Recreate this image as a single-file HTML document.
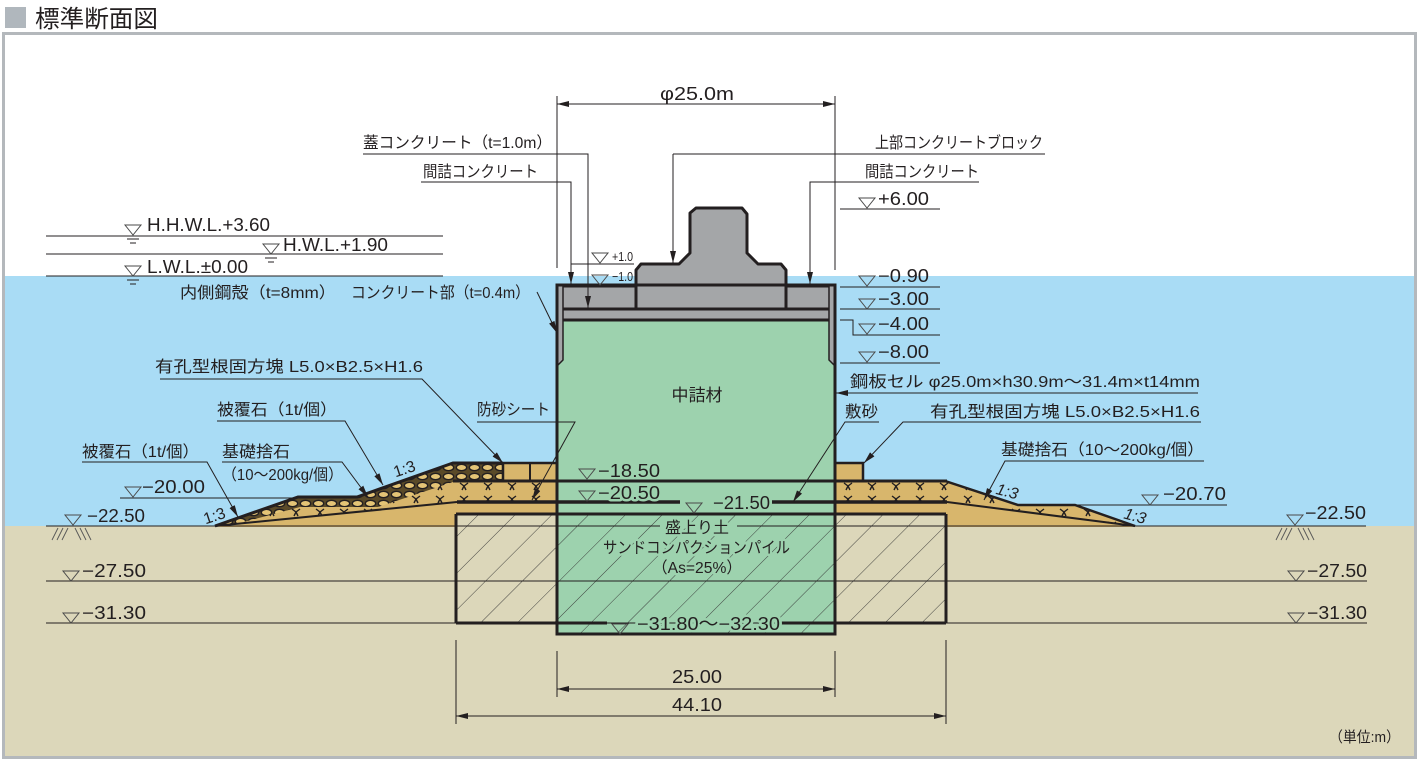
<!DOCTYPE html>
<html><head><meta charset="utf-8">
<style>
html,body{margin:0;padding:0;background:#fff;}
svg{display:block;}
text{font-family:"Liberation Sans","Noto Sans CJK JP",sans-serif;fill:#231f20;}
.j{font-size:16px;}
.n{font-size:18px;}
.h{paint-order:stroke;stroke:#9dd2ae;stroke-width:5px;stroke-linejoin:round;}
.tri{fill:none;stroke:#4a4a4a;stroke-width:1;}
.thin{stroke:#231f20;stroke-width:1;fill:none;}
.thk{stroke:#231f20;stroke-width:3;fill:none;}
</style></head><body>
<svg width="1419" height="760" viewBox="0 0 1419 760" xmlns="http://www.w3.org/2000/svg">
<defs>
 <marker id="ar" markerWidth="12" markerHeight="6" refX="12" refY="3" orient="auto-start-reverse" markerUnits="userSpaceOnUse">
  <path d="M0,0 L12,3 L0,6 z" fill="#231f20"/>
 </marker>
 <pattern id="hat" width="26" height="10" patternUnits="userSpaceOnUse" patternTransform="rotate(45)">
  <line x1="0" y1="0" x2="0" y2="10" stroke="#333" stroke-width="0.9"/>
 </pattern>
 <pattern id="xm" width="24" height="13" patternUnits="userSpaceOnUse" x="0" y="481">
  <rect width="24" height="13" fill="#d8b66c"/>
  <path d="M4,2 L8,5 L12,2 M8,5 L6,9 M8,5 L10,9" stroke="#231f20" stroke-width="1.4" fill="none"/>
 </pattern>
 <pattern id="ov" width="13" height="9" patternUnits="userSpaceOnUse" x="0" y="463">
  <rect width="13" height="9" fill="#5a4a28"/>
  <ellipse cx="6.5" cy="4.5" rx="5.2" ry="3.2" fill="#e4c476" stroke="#231f20" stroke-width="1.4"/>
 </pattern>
</defs>

<!-- title -->
<rect x="5" y="7" width="21" height="21" fill="#b0b7bd"/>
<text x="35" y="27" font-size="24" textLength="123" lengthAdjust="spacingAndGlyphs">標準断面図</text>

<!-- backgrounds -->
<rect x="4" y="34" width="1411" height="242" fill="#ffffff"/>
<rect x="4" y="276" width="1411" height="250" fill="#a9dcf5"/>
<rect x="4" y="526" width="1411" height="231" fill="#dcd7ba"/>
<rect x="3.5" y="33.5" width="1412" height="724" fill="none" stroke="#b4b8bc" stroke-width="3"/>

<!-- water level lines -->
<line x1="46" y1="236" x2="443" y2="236" class="thin"/>
<line x1="46" y1="254" x2="443" y2="254" class="thin"/>
<line x1="46" y1="276" x2="443" y2="276" class="thin"/>

<!-- sand base under mounds -->
<polygon points="215,527 457,502 947,502 1135,527" fill="#d8b66c"/>
<!-- rubble mounds -->
<polygon points="215,526 298,497 357,497 453,463 557,463 557,502 457,502" fill="url(#xm)"/>
<polygon points="835,481 945,481 1018,505 1075,505 1135,526 947,502 835,502" fill="url(#xm)"/>
<!-- armour stones -->
<polygon points="215,526 298,497 357,497 453,463 503,463 503,482 453,482 378,507 300,507 236,524" fill="url(#ov)"/>
<polyline points="215,526 298,497 357,497 453,463 503,463" class="thk"/>
<polyline points="835,481 945,481 1018,505 1075,505 1135,526" stroke="#231f20" stroke-width="2.5" fill="none"/>
<line x1="215" y1="526" x2="457" y2="502" stroke="#231f20" stroke-width="2"/>
<line x1="947" y1="502" x2="1135" y2="526" stroke="#231f20" stroke-width="2"/>
<!-- blocks -->
<rect x="503" y="463" width="54" height="18" fill="#d8b66c" stroke="#231f20" stroke-width="2.5"/>
<line x1="530" y1="463" x2="530" y2="481" stroke="#231f20" stroke-width="2"/>
<rect x="835" y="463" width="28" height="18" fill="#d8b66c" stroke="#231f20" stroke-width="2.5"/>

<!-- improved ground box -->
<rect x="456" y="514" width="490" height="109" fill="#dcd7ba"/>
<!-- cell -->
<rect x="557" y="320" width="278" height="314" fill="#9dd2ae"/>
<rect x="456" y="514" width="490" height="109" fill="url(#hat)"/>
<rect x="557" y="623" width="278" height="11" fill="url(#hat)"/>

<!-- ground lines -->
<line x1="46" y1="526" x2="660" y2="526" class="thin"/>
<line x1="737" y1="526" x2="1366" y2="526" class="thin"/>
<line x1="46" y1="581" x2="1367" y2="581" class="thin"/>
<line x1="46" y1="623" x2="1367" y2="623" class="thin"/>

<!-- thick horizontal lines -->
<line x1="453" y1="481" x2="947" y2="481" class="thk"/>
<line x1="457" y1="502" x2="680" y2="502" stroke="#231f20" stroke-width="3.5"/>
<line x1="772" y1="502" x2="947" y2="502" stroke="#231f20" stroke-width="3.5"/>
<line x1="456" y1="514" x2="946" y2="514" class="thk"/>
<line x1="456" y1="514" x2="456" y2="623" class="thk"/>
<line x1="946" y1="514" x2="946" y2="623" class="thk"/>
<line x1="456" y1="623" x2="607" y2="623" class="thk"/>
<line x1="780" y1="623" x2="946" y2="623" class="thk"/>

<!-- cap -->
<rect x="557" y="285" width="278" height="35" fill="#a4a6a8"/>
<polygon points="636,309 636,270 641,264 679,264 690,253 690,213 696,208 742,208 747,214 747,253 758,264 781,264 786,270 786,309" fill="#a4a6a8" stroke="#231f20" stroke-width="3" stroke-linejoin="round"/>
<line x1="557" y1="286" x2="636" y2="286" class="thk"/>
<line x1="786" y1="286" x2="835" y2="286" class="thk"/>
<line x1="557" y1="309" x2="835" y2="309" class="thk"/>
<line x1="557" y1="320" x2="835" y2="320" class="thk"/>
<polygon points="557,285 563,285 563,360 557,366" fill="#a4a6a8" stroke="#231f20" stroke-width="1.5"/>
<polygon points="829,285 835,285 835,366 829,360" fill="#a4a6a8" stroke="#231f20" stroke-width="1.5"/>
<rect x="557" y="285" width="278" height="349" fill="none" stroke="#231f20" stroke-width="3"/>

<!-- dimension phi -->
<line x1="557" y1="96" x2="557" y2="268" class="thin"/>
<line x1="835" y1="96" x2="835" y2="270" class="thin"/>
<line x1="557" y1="104" x2="835" y2="104" class="thin" marker-start="url(#ar)" marker-end="url(#ar)"/>
<text x="697" y="100" class="n" text-anchor="middle" textLength="74" lengthAdjust="spacingAndGlyphs">φ25.0m</text>

<!-- leaders top-left -->
<polyline points="363,154 588,154 588,308" class="thin" marker-end="url(#ar)"/>
<text x="363" y="148" class="j" textLength="189" lengthAdjust="spacingAndGlyphs">蓋コンクリート（t=1.0m）</text>
<polyline points="421,182 571,182 571,284" class="thin" marker-end="url(#ar)"/>
<text x="423" y="177" class="j" textLength="115" lengthAdjust="spacingAndGlyphs">間詰コンクリート</text>
<line x1="571" y1="264" x2="634" y2="264" class="thin"/>
<path d="M592,253 h16 l-8,10 z" class="tri"/>
<path d="M592,275 h16 l-8,10 z" class="tri"/>
<text x="612" y="261" font-size="13" textLength="21" lengthAdjust="spacingAndGlyphs">+1.0</text>
<text x="612" y="281" font-size="13" textLength="21" lengthAdjust="spacingAndGlyphs">−1.0</text>

<!-- leaders top-right -->
<line x1="673" y1="154" x2="1045" y2="154" class="thin"/>
<line x1="673" y1="154" x2="673" y2="263" class="thin" marker-end="url(#ar)"/>
<text x="875" y="148" class="j" textLength="168" lengthAdjust="spacingAndGlyphs">上部コンクリートブロック</text>
<polyline points="979,182 810,182 810,284" class="thin" marker-end="url(#ar)"/>
<text x="865" y="177" class="j" textLength="114" lengthAdjust="spacingAndGlyphs">間詰コンクリート</text>

<!-- right levels -->
<line x1="840" y1="209" x2="940" y2="209" class="thin"/>
<path d="M859,198 h16 l-8,10 z" class="tri"/>
<text x="878" y="205" class="n" textLength="51" lengthAdjust="spacingAndGlyphs">+6.00</text>
<line x1="840" y1="287" x2="940" y2="287" class="thin"/>
<path d="M859,276 h16 l-8,10 z" class="tri"/>
<text x="878" y="282" class="n" textLength="51" lengthAdjust="spacingAndGlyphs">−0.90</text>
<line x1="840" y1="309" x2="940" y2="309" class="thin"/>
<path d="M859,299 h16 l-8,10 z" class="tri"/>
<text x="878" y="305" class="n" textLength="51" lengthAdjust="spacingAndGlyphs">−3.00</text>
<polyline points="840,320 853,320 853,335 940,335" class="thin"/>
<path d="M859,324 h16 l-8,10 z" class="tri"/>
<text x="878" y="330" class="n" textLength="51" lengthAdjust="spacingAndGlyphs">−4.00</text>
<line x1="840" y1="363" x2="940" y2="363" class="thin"/>
<path d="M859,352 h16 l-8,10 z" class="tri"/>
<text x="878" y="358" class="n" textLength="51" lengthAdjust="spacingAndGlyphs">−8.00</text>

<line x1="1198" y1="393" x2="836" y2="393" class="thin" marker-end="url(#ar)"/>
<text x="850" y="387" class="j" textLength="350" lengthAdjust="spacingAndGlyphs">鋼板セル φ25.0m×h30.9m〜31.4m×t14mm</text>

<polyline points="879,422 845,422 793,502" class="thin" marker-end="url(#ar)"/>
<text x="845" y="417" class="j" textLength="33" lengthAdjust="spacingAndGlyphs">敷砂</text>
<polyline points="1201,422 903,422 864,463" class="thin" marker-end="url(#ar)"/>
<text x="930" y="417" class="j" textLength="270" lengthAdjust="spacingAndGlyphs">有孔型根固方塊 L5.0×B2.5×H1.6</text>
<polyline points="1204,461 1005,461 984,500" class="thin" marker-end="url(#ar)"/>
<text x="1001" y="455" class="j" textLength="203" lengthAdjust="spacingAndGlyphs">基礎捨石（10〜200kg/個）</text>
<text x="996" y="497" font-size="16" font-style="italic" transform="rotate(15 1008 492)">1:3</text>
<line x1="1075" y1="505" x2="1227" y2="505" class="thin"/>
<path d="M1142,495 h16 l-8,10 z" class="tri"/>
<text x="1163" y="500" class="n" textLength="63" lengthAdjust="spacingAndGlyphs">−20.70</text>
<text x="1124" y="521" font-size="16" font-style="italic" transform="rotate(15 1134 516)">1:3</text>

<!-- right ground labels -->
<path d="M1287,515 h16 l-8,10 z" class="tri"/>
<text x="1305" y="519" class="n" textLength="61" lengthAdjust="spacingAndGlyphs">−22.50</text>
<path d="M1276,540 l6,-12 M1281,540 l6,-12 M1286,540 l6,-12 M1298,528 l6,12 M1303,528 l6,12 M1308,528 l6,12" stroke="#555" stroke-width="0.9" fill="none"/>
<path d="M1288,571 h16 l-8,10 z" class="tri"/>
<text x="1307" y="577" class="n" textLength="60" lengthAdjust="spacingAndGlyphs">−27.50</text>
<path d="M1288,613 h16 l-8,10 z" class="tri"/>
<text x="1307" y="619" class="n" textLength="60" lengthAdjust="spacingAndGlyphs">−31.30</text>

<!-- left water levels -->
<path d="M125,225 h16 l-8,10 z" class="tri"/>
<path d="M127,239 h12 M130,243 h6" class="thin"/>
<text x="147" y="231" class="n" textLength="123" lengthAdjust="spacingAndGlyphs">H.H.W.L.+3.60</text>
<path d="M263,244 h16 l-8,10 z" class="tri"/>
<path d="M265,258 h12 M268,262 h6" class="thin"/>
<text x="283" y="251" class="n" textLength="105" lengthAdjust="spacingAndGlyphs">H.W.L.+1.90</text>
<path d="M125,266 h16 l-8,10 z" class="tri"/>
<path d="M127,280 h12 M130,284 h6" class="thin"/>
<text x="147" y="273" class="n" textLength="101" lengthAdjust="spacingAndGlyphs">L.W.L.±0.00</text>

<text x="180" y="298" class="j" textLength="156" lengthAdjust="spacingAndGlyphs">内側鋼殻（t=8mm）</text>
<text x="351" y="298" class="j" textLength="179" lengthAdjust="spacingAndGlyphs">コンクリート部（t=0.4m）</text>
<line x1="537" y1="292" x2="557" y2="333" class="thin" marker-end="url(#ar)"/>

<!-- left leaders -->
<polyline points="160,379 422,379 503,463" class="thin" marker-end="url(#ar)"/>
<text x="155" y="372" class="j" textLength="268" lengthAdjust="spacingAndGlyphs">有孔型根固方塊 L5.0×B2.5×H1.6</text>
<polyline points="217,421 345,421 383,485" class="thin" marker-end="url(#ar)"/>
<text x="217" y="415" class="j" textLength="120" lengthAdjust="spacingAndGlyphs">被覆石（1t/個）</text>
<polyline points="477,422 575,422 532,500" class="thin" marker-end="url(#ar)"/>
<text x="477" y="415" class="j" textLength="73" lengthAdjust="spacingAndGlyphs">防砂シート</text>
<polyline points="82,462 207,462 238,517" class="thin" marker-end="url(#ar)"/>
<text x="82" y="457" class="j" textLength="117" lengthAdjust="spacingAndGlyphs">被覆石（1t/個）</text>
<polyline points="222,462 342,462 368,497" class="thin" marker-end="url(#ar)"/>
<text x="222" y="457" class="j" textLength="68" lengthAdjust="spacingAndGlyphs">基礎捨石</text>
<text x="222" y="480" class="j" textLength="121" lengthAdjust="spacingAndGlyphs">（10〜200kg/個）</text>
<text x="393" y="474" font-size="16" transform="rotate(-18 405 468)">1:3</text>
<text x="203" y="521" font-size="16" transform="rotate(-18 215 515)">1:3</text>

<line x1="120" y1="498" x2="297" y2="498" class="thin"/>
<path d="M125,487 h16 l-8,10 z" class="tri"/>
<text x="142" y="493" class="n" textLength="63" lengthAdjust="spacingAndGlyphs">−20.00</text>
<path d="M65,515 h16 l-8,10 z" class="tri"/>
<text x="87" y="522" class="n" textLength="58" lengthAdjust="spacingAndGlyphs">−22.50</text>
<path d="M52,540 l6,-12 M57,540 l6,-12 M62,540 l6,-12 M75,528 l6,12 M80,528 l6,12 M85,528 l6,12" stroke="#555" stroke-width="0.9" fill="none"/>
<path d="M63,571 h16 l-8,10 z" class="tri"/>
<text x="82" y="577" class="n" textLength="64" lengthAdjust="spacingAndGlyphs">−27.50</text>
<path d="M63,613 h16 l-8,10 z" class="tri"/>
<text x="82" y="619" class="n" textLength="64" lengthAdjust="spacingAndGlyphs">−31.30</text>

<!-- cell interior labels -->
<text x="697" y="401" font-size="17" text-anchor="middle">中詰材</text>
<path d="M579,469 h16 l-8,10 z" class="tri"/>
<text x="598" y="477" class="n h" textLength="62" lengthAdjust="spacingAndGlyphs">−18.50</text>
<path d="M579,491 h16 l-8,10 z" class="tri"/>
<text x="598" y="499" class="n h" textLength="62" lengthAdjust="spacingAndGlyphs">−20.50</text>
<path d="M686,503 h16 l-8,10 z" class="tri"/>
<text x="713" y="509" class="n h" textLength="57" lengthAdjust="spacingAndGlyphs">−21.50</text>
<text x="697" y="533" font-size="16" text-anchor="middle" class="h">盛上り土</text>
<text x="603" y="553" font-size="16" class="h" textLength="187" lengthAdjust="spacingAndGlyphs">サンドコンパクションパイル</text>
<text x="652" y="573" font-size="16" class="h" textLength="90" lengthAdjust="spacingAndGlyphs">（As=25%）</text>
<path d="M612,624 h16 l-8,10 z" class="tri"/>
<text x="637" y="630" class="n h" textLength="143" lengthAdjust="spacingAndGlyphs">−31.80〜−32.30</text>

<!-- bottom dimensions -->
<line x1="557" y1="651" x2="557" y2="697" class="thin"/>
<line x1="835" y1="651" x2="835" y2="697" class="thin"/>
<line x1="557" y1="689" x2="835" y2="689" class="thin" marker-start="url(#ar)" marker-end="url(#ar)"/>
<text x="697" y="683" class="n" text-anchor="middle" textLength="50" lengthAdjust="spacingAndGlyphs">25.00</text>
<line x1="456" y1="640" x2="456" y2="724" class="thin"/>
<line x1="946" y1="640" x2="946" y2="724" class="thin"/>
<line x1="456" y1="716" x2="946" y2="716" class="thin" marker-start="url(#ar)" marker-end="url(#ar)"/>
<text x="697" y="711" class="n" text-anchor="middle" textLength="50" lengthAdjust="spacingAndGlyphs">44.10</text>

<text x="1329" y="742" font-size="15" textLength="71" lengthAdjust="spacingAndGlyphs">（単位:m）</text>
</svg>
</body></html>
